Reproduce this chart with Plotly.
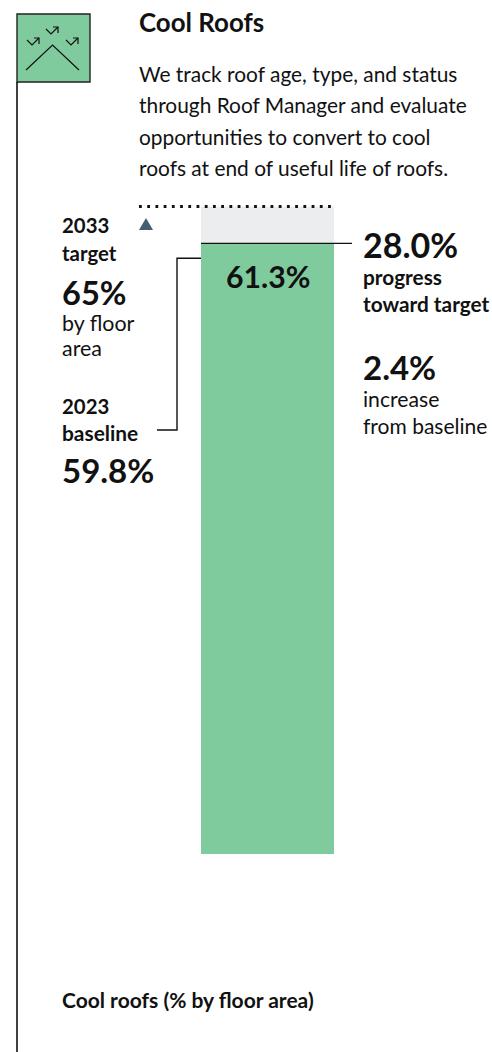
import plotly.graph_objects as go

# Chart values
categories = ["Cool roofs"]
current_value = [61.3]
target_value = 65
baseline_value = 59.8

# Canvas geometry
W, H = 492, 1052
BAR_LEFT, BAR_RIGHT = 201, 334
ZERO_PX, TARGET_PX = 854, 206.5
PX_PER_UNIT = (ZERO_PX - TARGET_PX) / target_value
Y_MIN = -(H - ZERO_PX) / PX_PER_UNIT
Y_MAX = ZERO_PX / PX_PER_UNIT

FONT = "Lato"
INK = "#111111"
GREEN = "#80CB9D"
PALE = "#ECEDEF"
SLATE = "#44606F"


def val(py):
    """Pixel row to value-axis coordinate."""
    return Y_MIN + (H - py) / PX_PER_UNIT


fig = go.Figure()

# Headroom up to the target, then the current value on top of it
fig.add_trace(go.Bar(x=[(BAR_LEFT + BAR_RIGHT) / 2], y=[target_value], width=BAR_RIGHT - BAR_LEFT,
                     marker=dict(color=PALE, line_width=0), hoverinfo="skip"))
fig.add_trace(go.Bar(x=[(BAR_LEFT + BAR_RIGHT) / 2], y=current_value, width=BAR_RIGHT - BAR_LEFT,
                     marker=dict(color=GREEN, line_width=0), name=categories[0]))

# Dotted target line
fig.add_trace(go.Scatter(x=[139, 336], y=[target_value, target_value], mode="lines",
                         line=dict(color="#111111", width=2.8, dash="2.8px 5.42px"), hoverinfo="skip"))
# Target marker
fig.add_trace(go.Scatter(x=[139, 153, 146, 139], y=[val(230), val(230), val(218), val(230)], mode="lines",
                         fill="toself", fillcolor=SLATE, line=dict(width=0, color=SLATE), hoverinfo="skip"))


def seg(points, color=INK, width=1.4):
    path = "M" + " L".join(f"{x},{y}" for x, y in points)
    fig.add_shape(type="path", path=path, xref="x", yref="y", layer="above",
                  line=dict(color=color, width=width))


# Leader lines for the current value and the baseline
seg([(201, current_value[0]), (352, current_value[0])])
seg([(157, val(430)), (177, val(430)), (177, baseline_value), (201, baseline_value)])

# Icon tile and the rule running down from it
fig.add_shape(type="rect", x0=17, x1=90, y0=val(82), y1=val(14), xref="x", yref="y",
              fillcolor=GREEN, line=dict(color="#222222", width=1.4), layer="above")
seg([(17, val(82)), (17, val(1052))], color="#111111", width=1.6)
seg([(26, val(70)), (52.5, val(45)), (79, val(70))], width=1.2)
for ox, oy in ((27, 40), (46, 29), (66, 40)):
    seg([(ox, val(oy)), (ox + 5, val(oy + 5)), (ox + 12, val(oy - 2))], width=1.2)
    seg([(ox + 7, val(oy - 2)), (ox + 12, val(oy - 2)), (ox + 12, val(oy + 4))], width=1.2)


def label(x, py, text, size, bold=False, anchor="left"):
    fig.add_annotation(x=x, y=val(py), xref="x", yref="y", text=f"<b>{text}</b>" if bold else text,
                       showarrow=False, xanchor=anchor, yanchor="middle", align=anchor,
                       font=dict(family=FONT, size=size, color=INK),
                       borderpad=0, borderwidth=0)


label(139, 22, "Cool Roofs", 25.9, True)
for i, line in enumerate(["We track roof age, type, and status",
                          "through Roof Manager and evaluate",
                          "opportunities to convert to cool",
                          "roofs at end of useful life of roofs."]):
    label(139, 73 + i * 31.5, line, 20.9)

label(62, 225, "2033", 20.4, True)
label(62, 253, "target", 20.4, True)
label(62, 292, f"{target_value}%", 32.6, True)
label(62, 323, "by floor", 21.4)
label(62, 348, "area", 21.4)
label(62, 406, "2023", 20.4, True)
label(62, 432, "baseline", 20.9, True)
label(62, 470, f"{baseline_value}%", 33, True)

label(268, 276, f"{current_value[0]}%", 30.2, True, "center")

label(363, 244, "28.0%", 34, True)
label(363, 276, "progress", 20.8, True)
label(363, 303, "toward target", 20.8, True)
label(363, 367, "2.4%", 33, True)
label(363, 399, "increase", 21.2)
label(363, 425, "from baseline", 21)

label(62, 999, "Cool roofs (% by floor area)", 21, True)

fig.update_layout(
    width=W, height=H, margin=dict(l=0, r=0, t=0, b=0), barmode="overlay", showlegend=False,
    paper_bgcolor="white", plot_bgcolor="white",
    xaxis=dict(range=[0, W], visible=False, fixedrange=True),
    yaxis=dict(range=[Y_MIN, Y_MAX], visible=False, fixedrange=True),
)
fig.write_html("out.html", config=dict(displayModeBar=False))
